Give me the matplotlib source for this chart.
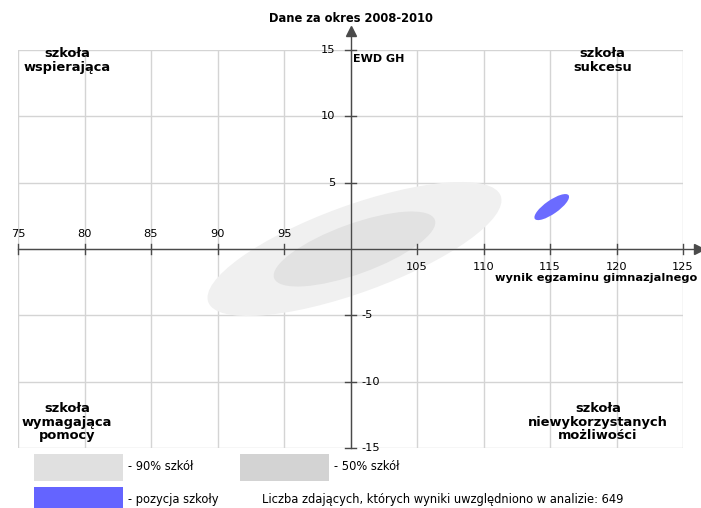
import matplotlib.pyplot as plt
from matplotlib.patches import Ellipse, Rectangle

# axis ranges / ticks
x_ticks = [75, 80, 85, 90, 95, 105, 110, 115, 120, 125]
y_ticks = [15, 10, 5, -5, -10, -15]
x_grid = [75, 80, 85, 90, 95, 100, 105, 110, 115, 120, 125]
y_grid = [-15, -10, -5, 0, 5, 10, 15]

# ellipses: centre x, centre y, semi-major, semi-minor, angle
ell_90 = [100.3, 0.0, 11.7, 3.28, 20]
ell_50 = [100.3, 0.0, 6.43, 1.89, 20]
ell_school = [115.13, 3.16, 1.55, 0.51, 35]

quadrants = ['szkoła\nwspierająca', 'szkoła\nsukcesu',
             'szkoła\nwymagająca\npomocy', 'szkoła\nniewykorzystanych\nmożliwości']
legend_labels = ['- 90% szkół', '- 50% szkół', '- pozycja szkoły']
n_students = 649

c90, c50, cschool = '#f0f0f0', '#e2e2e2', '#6b6bff'
axc = '#4a4a4a'

W, H = 701, 508
fig = plt.figure(figsize=(W / 100, H / 100), dpi=100)
ax = fig.add_axes([18 / W, (H - 448) / H, 665 / W, 398 / H])
ax.set_xlim(75, 125)
ax.set_ylim(-15, 15)
ax.axis('off')

# grid
for x in x_grid:
    ax.plot([x, x], [-15, 15], color='#d4d4d4', lw=1, zorder=1)
for y in y_grid:
    ax.plot([75, 125], [y, y], color='#d4d4d4', lw=1, zorder=1)

# ellipses
for e, c in [(ell_90, c90), (ell_50, c50), (ell_school, cschool)]:
    ax.add_patch(Ellipse((e[0], e[1]), 2 * e[2], 2 * e[3], angle=e[4],
                         facecolor=c, edgecolor='none', zorder=2))

# axes with arrows
ax.plot([75, 126.0], [0, 0], color=axc, lw=1, zorder=3, clip_on=False)
ax.plot([100, 100], [-15, 16.2], color=axc, lw=1, zorder=3, clip_on=False)
ax.plot([126.2], [0], marker='>', color=axc, ms=7, zorder=3, clip_on=False)
ax.plot([100], [16.4], marker='^', color=axc, ms=7, zorder=3, clip_on=False)

for x in x_ticks:
    ax.plot([x, x], [-0.38, 0.38], color=axc, lw=1, zorder=3, clip_on=False)
    if x < 100:
        ax.text(x, 0.75, str(x), ha='center', va='bottom', fontsize=8.2)
    else:
        ax.text(x, -1.0, str(x), ha='center', va='top', fontsize=8.2)
for y in y_ticks:
    ax.plot([99.55, 100.45], [y, y], color=axc, lw=1, zorder=3, clip_on=False)
    if y > 0:
        ax.text(98.85, y, str(y), ha='right', va='center', fontsize=8.2)
    else:
        ax.text(100.85, y, str(y), ha='left', va='center', fontsize=8.2)

ax.text(100.2, 14.3, 'EWD GH', ha='left', va='center', fontsize=8,
        fontweight='bold')
ax.text(126.1, -2.2, 'wynik egzaminu gimnazjalnego', ha='right', va='center',
        fontsize=8.2, fontweight='bold')
ax.text(100, 17.4, 'Dane za okres 2008-2010', ha='center', va='center',
        fontsize=8.3, fontweight='bold')

# quadrant labels
qpos = [(78.7, 14.2), (118.95, 14.2), (78.7, -13.05), (118.6, -13.05)]
for (qx, qy), t in zip(qpos, quadrants):
    ax.text(qx, qy, t, ha='center', va='center', fontsize=9.4,
            fontweight='bold', linespacing=1.08)

# legend (figure pixel coords)
def px(x, y):
    return x / W, (H - y) / H

sw = [(34, 454, 89, 27, '#e0e0e0'), (240, 454, 89, 27, '#d3d3d3'),
      (34, 487, 89, 27, '#6464ff')]
for x0, y0, w, h, c in sw:
    fig.add_artist(Rectangle(px(x0, y0 + h), w / W, h / H, facecolor=c,
                             edgecolor='none', transform=fig.transFigure))
fig.text(*px(128, 467), legend_labels[0], ha='left', va='center', fontsize=8.3)
fig.text(*px(334, 467), legend_labels[1], ha='left', va='center', fontsize=8.3)
fig.text(*px(128, 500), legend_labels[2], ha='left', va='center', fontsize=8.3)
fig.text(*px(262, 500),
         'Liczba zdających, których wyniki uwzględniono w analizie: %d' % n_students,
         ha='left', va='center', fontsize=8.3)

fig.savefig('out.png', dpi=100)
